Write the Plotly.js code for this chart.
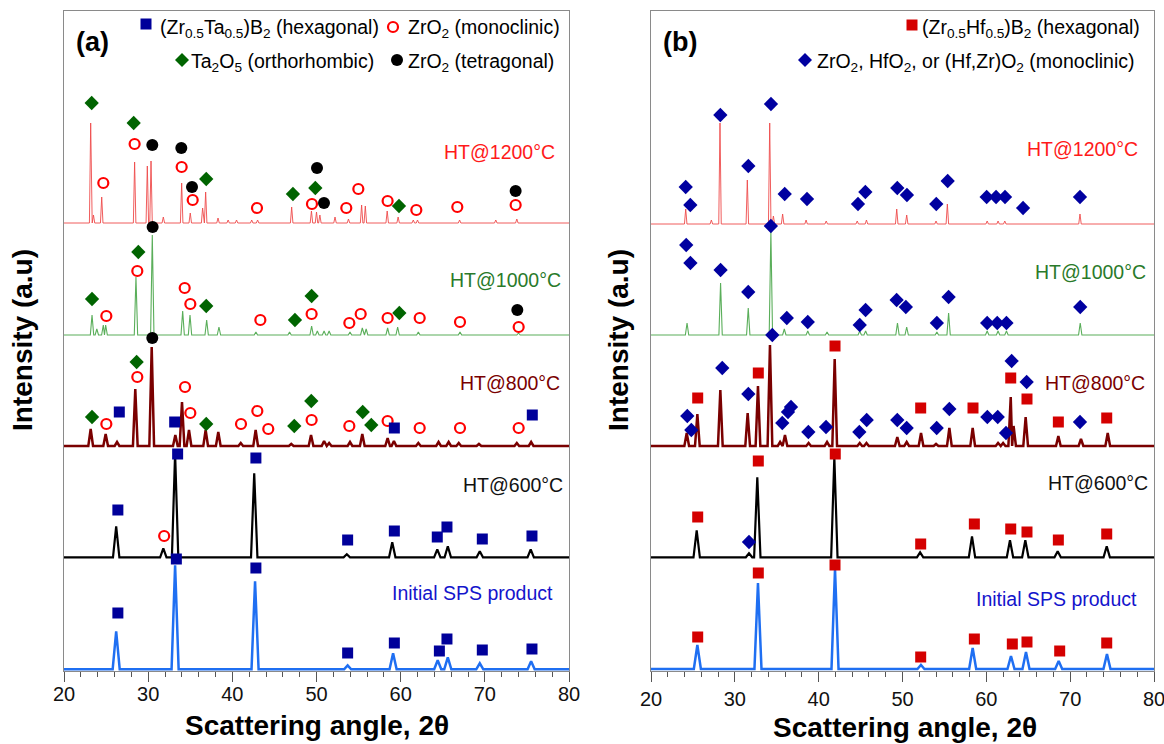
<!DOCTYPE html>
<html>
<head>
<meta charset="utf-8">
<script src="https://cdn.plot.ly/plotly-3.0.1.min.js"></script>
<style>html,body{margin:0;padding:0;background:#fff}#chart{width:1164px;height:744px}</style>
</head>
<body>
<div id="chart"></div>
<script>
// ---------------- DATA ----------------
// Stack baselines (chart units) for each pattern
const SAMPLES = ["Initial SPS product", "HT@600°C", "HT@800°C", "HT@1000°C", "HT@1200°C"];
const A_BASE = [3.7, 115.7, 227, 338, 450];
const B_BASE = [4, 115.7, 227, 338, 449];

// ---- Panel (a): (Zr0.5Ta0.5)B2 ----
const A_SPS_POS = [26.2, 33.2, 42.7, 53.7, 59.1, 64.4, 65.6, 69.4, 75.5];
const A_SPS_H   = [38, 104, 88, 4, 16, 9, 12, 6, 8];
const A_SPS_SQ_X = [26.4, 33.35, 42.8, 53.7, 59.25, 64.6, 65.5, 69.7, 75.6];
const A_SPS_SQ_Y = [60, 114, 105, 20, 30, 22, 34, 23, 24];

const A_600_POS = [26.2, 31.8, 33.2, 42.6, 53.6, 59.0, 64.35, 65.6, 69.4, 75.45];
const A_600_H   = [31, 9, 104, 84, 3, 15, 8, 11, 6, 8];
const A_600_SQ_X = [26.4, 33.5, 42.8, 53.7, 59.25, 64.35, 65.5, 69.7, 75.6];
const A_600_SQ_Y = [163, 219, 215, 133, 142, 136, 146, 134, 137];
const A_600_MC_X = [31.9];
const A_600_MC_Y = [137];

const A_800_POS = [23.17, 24.95, 26.3, 28.47, 30.42, 33.23, 34.02, 34.85, 36.83, 38.33, 41.0, 42.77, 47.0, 49.35, 50.9, 51.5, 53.98, 55.44, 58.45, 59.2, 62.1, 64.5, 65.7, 66.9, 69.3, 73.8, 75.5];
const A_800_H   = [17, 12, 4, 57, 99, 11, 44, 16, 16, 14, 3, 16, 2, 11, 5, 3, 4, 12, 8, 5, 3, 4, 4, 3, 2, 3, 4];
const A_800_TA_X = [23.33, 28.63, 36.9, 47.36, 49.38, 55.49, 56.51];
const A_800_TA_Y = [256, 311, 249, 247, 272, 261, 248];
const A_800_MC_X = [25.03, 28.71, 34.38, 35.01, 41.03, 42.97, 44.27, 49.42, 53.9, 58.45, 62.26, 67.05, 74.02];
const A_800_MC_Y = [249, 296, 286, 260, 249, 262, 244, 253, 247, 252, 245, 245, 245];
const A_800_TE_X = [30.49];
const A_800_TE_Y = [335];
const A_800_SQ_X = [26.57, 33.15, 59.25, 75.64];
const A_800_SQ_Y = [261, 251, 245, 258];

const A_1000_POS = [23.33, 23.9, 24.67, 24.95, 28.55, 30.49, 34.1, 34.97, 36.95, 38.41, 42.8, 46.8, 49.42, 50.1, 50.9, 51.5, 53.98, 55.44, 55.9, 58.45, 59.64, 62.1, 67.05, 74.0];
const A_1000_H   = [20, 6, 10, 10, 58, 100, 24, 20, 15, 8, 3, 3, 9, 4, 4, 4, 3, 7, 6, 7, 8, 3, 3, 2];
const A_1000_TA_X = [23.33, 28.83, 36.9, 47.44, 49.42, 59.84];
const A_1000_TA_Y = [374, 421, 367, 353, 377, 360];
const A_1000_MC_X = [25.03, 28.71, 34.34, 35.01, 43.33, 49.42, 53.9, 55.25, 58.45, 62.26, 67.05, 74.02];
const A_1000_MC_Y = [357, 402, 385, 369, 353, 359, 350, 359, 355, 355, 351, 346];
const A_1000_TE_X = [30.53, 73.86];
const A_1000_TE_Y = [446, 363];

const A_1200_POS = [23.17, 23.5, 24.48, 28.39, 29.9, 30.34, 31.8, 33.98, 35.0, 36.47, 36.83, 38.3, 39.5, 40.5, 42.3, 43.0, 47.05, 49.4, 50.0, 50.4, 52.2, 53.8, 55.36, 55.8, 58.4, 59.7, 61.5, 62.0, 67.0, 71.3, 73.8];
const A_1200_H   = [100, 8, 26, 61, 57, 62, 6, 40, 10, 15, 31, 5, 3, 3, 3, 3, 16, 12, 11, 8, 6, 4, 18, 17, 12, 6, 3, 3, 3, 3, 4];
const A_1200_TA_X = [23.29, 28.28, 36.9, 47.2, 49.86, 59.8];
const A_1200_TA_Y = [570, 550, 494, 479, 485, 467];
const A_1200_MC_X = [24.67, 28.39, 33.98, 35.29, 42.93, 49.46, 53.54, 54.97, 58.45, 61.86, 66.73, 73.66];
const A_1200_MC_Y = [490, 529, 506, 473, 465, 469, 465, 484, 472, 463, 466, 468];
const A_1200_TE_X = [30.49, 33.94, 35.21, 50.06, 50.89, 73.66];
const A_1200_TE_Y = [528, 525, 486, 505, 470, 482];

// ---- Panel (b): (Zr0.5Hf0.5)B2 ----
const B_SPS_POS = [25.53, 32.76, 41.95, 52.2, 58.37, 62.94, 64.73, 68.63, 74.39];
const B_SPS_H   = [24, 86, 100, 4, 21, 13, 17, 8, 15];
const B_SPS_SQ_X = [25.57, 32.8, 41.95, 52.17, 58.57, 63.1, 64.85, 68.75, 74.36];
const B_SPS_SQ_Y = [36, 100, 108, 16, 34, 29, 31, 22, 30];

const B_600_POS = [25.45, 31.69, 32.68, 41.87, 52.1, 58.29, 62.82, 64.65, 68.51, 74.36];
const B_600_H   = [27, 4, 80, 100, 5, 21, 17, 17, 6, 11];
const B_600_SQ_X = [25.57, 32.8, 41.98, 52.17, 58.57, 62.91, 64.85, 68.59, 74.36];
const B_600_SQ_Y = [156, 212, 219, 129, 149, 144, 141, 133, 139];
const B_600_DI_X = [31.69];
const B_600_DI_Y = [131];

const B_800_POS = [24.26, 25.53, 28.27, 31.53, 32.76, 34.19, 35.4, 35.98, 38.8, 41.0, 41.91, 44.9, 45.7, 49.38, 50.5, 52.21, 54.0, 55.59, 58.37, 61.4, 62.0, 62.91, 63.25, 64.69, 68.59, 71.29, 74.48];
const B_800_H   = [13, 32, 56, 33, 60, 101, 4, 11, 3, 4, 87, 3, 3, 9, 4, 13, 2, 18, 18, 3, 3, 49, 20, 29, 10, 7, 13];
const B_800_SQ_X = [25.57, 32.8, 41.95, 52.17, 58.41, 62.91, 64.85, 68.59, 74.36];
const B_800_SQ_Y = [275, 300, 327, 265, 265, 295, 274, 251, 255];
const B_800_DI_X = [24.33, 24.81, 28.5, 31.61, 34.47, 35.66, 36.34, 36.7, 38.77, 40.88, 44.85, 45.73, 49.38, 50.5, 54.08, 55.59, 60.12, 61.36, 62.35, 63.02, 64.81, 71.17];
const B_800_DI_Y = [257, 243, 305, 279, 338, 250, 261, 266, 241, 246, 241, 253, 253, 245, 245, 264, 256, 256, 240, 312, 291, 251];

const B_1000_POS = [24.3, 28.3, 31.6, 34.3, 35.9, 38.7, 41.0, 44.9, 45.6, 49.4, 50.5, 54.1, 55.5, 60.1, 61.4, 62.4, 71.2];
const B_1000_H   = [12, 52, 27, 103, 6, 4, 3, 4, 4, 12, 8, 3, 22, 4, 4, 4, 12];
const B_1000_DI_X = [24.2, 24.7, 28.3, 31.6, 34.3, 36.2, 38.7, 44.9, 45.6, 49.3, 50.4, 54.1, 55.5, 60.1, 61.3, 62.4, 71.2];
const B_1000_DI_Y = [428, 410, 403, 381, 447, 355, 351, 348, 363, 373, 366, 350, 376, 350, 350, 350, 366];

const B_1200_POS = [24.14, 27.2, 28.23, 31.49, 34.16, 34.6, 35.7, 38.5, 40.9, 44.6, 45.7, 49.31, 50.5, 54.0, 55.35, 60.1, 61.4, 62.2, 71.17];
const B_1200_H   = [15, 4, 101, 44, 101, 8, 10, 4, 3, 3, 4, 15, 9, 3, 20, 3, 3, 3, 10];
const B_1200_DI_X = [24.14, 24.69, 28.27, 31.61, 34.31, 35.95, 38.61, 44.69, 45.57, 49.38, 50.53, 54.03, 55.39, 60.04, 61.16, 62.23, 64.38, 71.17];
const B_1200_DI_Y = [486, 468, 558, 507, 569, 479, 474, 469, 481, 485, 478, 469, 492, 476, 476, 476, 465, 476];

const X_TICKS = [20, 30, 40, 50, 60, 70, 80];

// ---------------- STYLES ----------------
const LINE_COL = ['#1f6ff2', '#000000', '#7a0000', '#5aae5a', '#ee4b4b'];
const LINE_W   = [2.5, 2.2, 2.5, 1.1, 0.9];
const PEAK_W   = [0.42, 0.38, 0.28, 0.2, 0.15];
const LABEL_COL = ['#1414cc', '#111111', '#7a0000', '#2a7a2a', '#ff1a1a'];
const FONT = 'Arial, "Liberation Sans", Helvetica, sans-serif';

// build a peak profile line from peak positions/heights
function profile(pos, h, base, w) {
  const xs = [20], ys = [base];
  for (let i = 0; i < pos.length; i++) {
    let wl = w, wr = w;
    if (i > 0) wl = Math.min(w, (pos[i] - pos[i - 1]) / 2);
    if (i < pos.length - 1) wr = Math.min(w, (pos[i + 1] - pos[i]) / 2);
    xs.push(pos[i] - wl, pos[i], pos[i] + wr);
    ys.push(base, base + h[i], base);
  }
  xs.push(80); ys.push(base);
  return {xs, ys};
}

const traces = [];
function addLine(pos, h, k, base, xa, ya) {
  const p = profile(pos, h, base[k], PEAK_W[k]);
  traces.push({x: p.xs, y: p.ys, xaxis: xa, yaxis: ya, type: 'scatter', mode: 'lines',
    line: {color: LINE_COL[k], width: LINE_W[k]}, hoverinfo: 'skip', name: SAMPLES[k]});
}
const MK = {
  sqA: {symbol: 'square', size: 11, color: '#00009a'},
  diA: {symbol: 'diamond', size: 11, color: '#006400'},
  mc:  {symbol: 'circle-open', size: 10, color: '#ff0000', line: {width: 2.2, color: '#ff0000'}},
  te:  {symbol: 'circle', size: 12, color: '#000000'},
  sqB: {symbol: 'square', size: 11, color: '#d40000'},
  diB: {symbol: 'diamond', size: 11, color: '#0000a0'}
};
function addMk(xs, ys, m, xa, ya) {
  traces.push({x: xs, y: ys, xaxis: xa, yaxis: ya, type: 'scatter', mode: 'markers',
    marker: m, hoverinfo: 'skip', cliponaxis: false});
}

// Panel (a) lines
addLine(A_SPS_POS, A_SPS_H, 0, A_BASE, 'x', 'y');
addLine(A_600_POS, A_600_H, 1, A_BASE, 'x', 'y');
addLine(A_800_POS, A_800_H, 2, A_BASE, 'x', 'y');
addLine(A_1000_POS, A_1000_H, 3, A_BASE, 'x', 'y');
addLine(A_1200_POS, A_1200_H, 4, A_BASE, 'x', 'y');
// Panel (b) lines
addLine(B_SPS_POS, B_SPS_H, 0, B_BASE, 'x2', 'y2');
addLine(B_600_POS, B_600_H, 1, B_BASE, 'x2', 'y2');
addLine(B_800_POS, B_800_H, 2, B_BASE, 'x2', 'y2');
addLine(B_1000_POS, B_1000_H, 3, B_BASE, 'x2', 'y2');
addLine(B_1200_POS, B_1200_H, 4, B_BASE, 'x2', 'y2');

// Panel (a) markers
addMk(A_SPS_SQ_X, A_SPS_SQ_Y, MK.sqA, 'x', 'y');
addMk(A_600_SQ_X, A_600_SQ_Y, MK.sqA, 'x', 'y');
addMk(A_600_MC_X, A_600_MC_Y, MK.mc, 'x', 'y');
addMk(A_800_TA_X, A_800_TA_Y, MK.diA, 'x', 'y');
addMk(A_800_MC_X, A_800_MC_Y, MK.mc, 'x', 'y');
addMk(A_800_TE_X, A_800_TE_Y, MK.te, 'x', 'y');
addMk(A_800_SQ_X, A_800_SQ_Y, MK.sqA, 'x', 'y');
addMk(A_1000_TA_X, A_1000_TA_Y, MK.diA, 'x', 'y');
addMk(A_1000_MC_X, A_1000_MC_Y, MK.mc, 'x', 'y');
addMk(A_1000_TE_X, A_1000_TE_Y, MK.te, 'x', 'y');
addMk(A_1200_TA_X, A_1200_TA_Y, MK.diA, 'x', 'y');
addMk(A_1200_MC_X, A_1200_MC_Y, MK.mc, 'x', 'y');
addMk(A_1200_TE_X, A_1200_TE_Y, MK.te, 'x', 'y');
// Panel (b) markers
addMk(B_SPS_SQ_X, B_SPS_SQ_Y, MK.sqB, 'x2', 'y2');
addMk(B_600_SQ_X, B_600_SQ_Y, MK.sqB, 'x2', 'y2');
addMk(B_600_DI_X, B_600_DI_Y, MK.diB, 'x2', 'y2');
addMk(B_800_SQ_X, B_800_SQ_Y, MK.sqB, 'x2', 'y2');
addMk(B_800_DI_X, B_800_DI_Y, MK.diB, 'x2', 'y2');
addMk(B_1000_DI_X, B_1000_DI_Y, MK.diB, 'x2', 'y2');
addMk(B_1200_DI_X, B_1200_DI_Y, MK.diB, 'x2', 'y2');

// ---------------- LAYOUT ----------------
const W = 1164, H = 744, MT = 11, MB = 73;
const PH = H - MT - MB;
const px = v => v / W;              // pixel x -> paper
const py = v => (H - MB - v) / PH;  // pixel y -> paper

const xBase = {
  range: [20, 80], tickmode: 'array', tickvals: X_TICKS, ticktext: X_TICKS.map(String),
  ticks: 'outside', ticklen: 10, tickwidth: 1, tickcolor: '#555',
  minor: {dtick: 2, tick0: 20, ticks: 'outside', ticklen: 5, tickcolor: '#555', tickwidth: 1},
  showline: true, mirror: true, linecolor: '#8a8a8a', linewidth: 1,
  showgrid: false, zeroline: false, fixedrange: true, ticklabeloverflow: 'allow',
  tickfont: {family: FONT, size: 20, color: '#111'}
};
const yBase = {
  range: [2, 662], showticklabels: false, ticks: '', showline: true, mirror: true,
  linecolor: '#8a8a8a', linewidth: 1, showgrid: false, zeroline: false, fixedrange: true
};

const ann = [];
function txt(text, x, y, opt) {
  ann.push(Object.assign({text, x, y, showarrow: false, font: {family: FONT, size: 19.5, color: '#000'}}, opt));
}
// sample labels (data coordinates)
const A_LAB_X = [78.33, 79.52, 79.13, 79.28, 78.57];
const A_LAB_Y = [79.7, 188, 289.7, 393, 521.3];
const B_LAB_X = [78.21, 79.52, 79.13, 79.29, 78.33];
const B_LAB_Y = [73.7, 189.7, 289.7, 401, 523.7];
for (let k = 0; k < 5; k++) {
  txt(SAMPLES[k], A_LAB_X[k], A_LAB_Y[k], {xref: 'x', yref: 'y', xanchor: 'right', yanchor: 'middle',
    font: {family: FONT, size: 19.5, color: LABEL_COL[k]}});
  txt(SAMPLES[k], B_LAB_X[k], B_LAB_Y[k], {xref: 'x2', yref: 'y2', xanchor: 'right', yanchor: 'middle',
    font: {family: FONT, size: 19.5, color: LABEL_COL[k]}});
}
// panel letters
txt('<b>(a)</b>', px(92), py(42), {xref: 'paper', yref: 'paper', xanchor: 'center', yanchor: 'middle', font: {family: FONT, size: 27, color: '#000'}});
txt('<b>(b)</b>', px(680), py(42), {xref: 'paper', yref: 'paper', xanchor: 'center', yanchor: 'middle', font: {family: FONT, size: 27, color: '#000'}});
// legend texts
const P = {xref: 'paper', yref: 'paper', xanchor: 'left', yanchor: 'middle'};
txt('(Zr<sub>0.5</sub>Ta<sub>0.5</sub>)B<sub>2</sub> (hexagonal)', px(158), py(29), P);
txt('ZrO<sub>2</sub> (monoclinic)', px(406), py(29), P);
txt('Ta<sub>2</sub>O<sub>5</sub> (orthorhombic)', px(189), py(63), P);
txt('ZrO<sub>2</sub> (tetragonal)', px(406), py(63), P);
txt('(Zr<sub>0.5</sub>Hf<sub>0.5</sub>)B<sub>2</sub> (hexagonal)', px(920), py(29), P);
txt('ZrO<sub>2</sub>, HfO<sub>2</sub>, or (Hf,Zr)O<sub>2</sub> (monoclinic)', px(815), py(63), P);
// axis titles
const TF = {family: FONT, size: 28, color: '#000'};
txt('<b>Scattering angle, 2θ</b>', px(317), py(725), {xref: 'paper', yref: 'paper', xanchor: 'center', yanchor: 'middle', font: TF});
txt('<b>Scattering angle, 2θ</b>', px(905), py(727), {xref: 'paper', yref: 'paper', xanchor: 'center', yanchor: 'middle', font: TF});
txt('<b>Intensity (a.u)</b>', px(22), py(340), {xref: 'paper', yref: 'paper', xanchor: 'center', yanchor: 'middle', textangle: -90, font: TF});
txt('<b>Intensity (a.u)</b>', px(618), py(340), {xref: 'paper', yref: 'paper', xanchor: 'center', yanchor: 'middle', textangle: -90, font: TF});

// legend symbols as pixel-sized shapes
const shapes = [];
function sym(kind, cx, cy, s, color) {
  const base = {xref: 'paper', yref: 'paper', xsizemode: 'pixel', ysizemode: 'pixel',
    xanchor: px(cx), yanchor: py(cy)};
  if (kind === 'sq') shapes.push(Object.assign(base, {type: 'rect', x0: -s/2, x1: s/2, y0: -s/2, y1: s/2, fillcolor: color, line: {width: 0}}));
  if (kind === 'ci') shapes.push(Object.assign(base, {type: 'circle', x0: -s/2, x1: s/2, y0: -s/2, y1: s/2, fillcolor: color, line: {width: 0}}));
  if (kind === 'oc') shapes.push(Object.assign(base, {type: 'circle', x0: -s/2, x1: s/2, y0: -s/2, y1: s/2, fillcolor: 'rgba(0,0,0,0)', line: {width: 2.2, color: color}}));
  if (kind === 'di') shapes.push(Object.assign(base, {type: 'path', path: `M0,${s/2} L${s/2},0 L0,${-s/2} L${-s/2},0 Z`, fillcolor: color, line: {width: 0}}));
}
sym('sq', 146, 24, 11, '#00009a');
sym('oc', 393, 27, 10, '#ff0000');
sym('di', 182, 60, 14, '#006400');
sym('ci', 397, 60, 12, '#000000');
sym('sq', 912, 25, 11, '#d40000');
sym('di', 805, 60, 14, '#0000a0');

const layout = {
  width: W, height: H, margin: {l: 0, r: 0, t: MT, b: MB, pad: 0},
  paper_bgcolor: '#ffffff', plot_bgcolor: '#ffffff', showlegend: false,
  xaxis: Object.assign({}, xBase, {domain: [64 / W, 569 / W], anchor: 'y', ticklabelstandoff: -5}),
  yaxis: Object.assign({}, yBase, {anchor: 'x'}),
  xaxis2: Object.assign({}, xBase, {domain: [651 / W, 1154 / W], anchor: 'y2', ticklabelstandoff: 0}),
  yaxis2: Object.assign({}, yBase, {anchor: 'x2'}),
  annotations: ann, shapes: shapes,
  font: {family: FONT}
};

Plotly.newPlot('chart', traces, layout, {staticPlot: true, displayModeBar: false});
</script>
</body>
</html>
